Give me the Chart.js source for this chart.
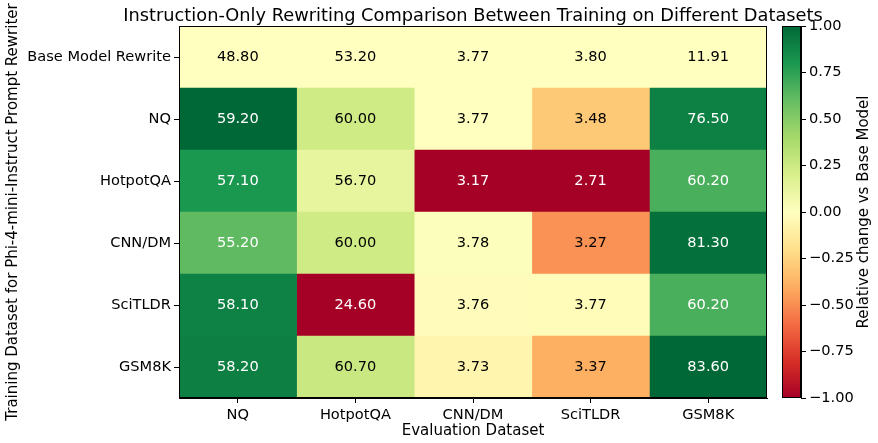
<!DOCTYPE html>
<html>
<head>
<meta charset="utf-8">
<script src="https://cdn.jsdelivr.net/npm/chart.js@4"></script>
<style>
  html, body { margin: 0; padding: 0; background: #fff; }
  #wrap { position: relative; width: 878px; height: 443px; }
  #heat { position: absolute; left: 0; top: 0; }
  #bar { position: absolute; left: 760px; top: 0; }
</style>
</head>
<body>
<div id="wrap">
  <canvas id="heat" width="878" height="443"></canvas>
  <canvas id="bar" width="118" height="443"></canvas>
</div>
<script>
// 데이터
const evalSets = ['NQ', 'HotpotQA', 'CNN/DM', 'SciTLDR', 'GSM8K'];
const trainSets = ['Base Model Rewrite', 'NQ', 'HotpotQA', 'CNN/DM', 'SciTLDR', 'GSM8K'];
const baseScores = [48.80, 53.20, 3.77, 3.80, 11.91];
const nqScores = [59.20, 60.00, 3.77, 3.48, 76.50];
const hotpotScores = [57.10, 56.70, 3.17, 2.71, 60.20];
const cnnScores = [55.20, 60.00, 3.78, 3.27, 81.30];
const scitldrScores = [58.10, 24.60, 3.76, 3.77, 60.20];
const gsmScores = [58.20, 60.70, 3.73, 3.37, 83.60];
const colorbarTicks = [-1, -0.75, -0.5, -0.25, 0, 0.25, 0.5, 0.75, 1];

const scores = [baseScores, nqScores, hotpotScores, cnnScores, scitldrScores, gsmScores];

// RdYlGn
const rdylgn = ['#a50026', '#d73027', '#f46d43', '#fdae61', '#fee08b', '#ffffbf',
  '#d9ef8b', '#a6d96a', '#66bd63', '#1a9850', '#006837'];

function hexToRgb(h) {
  return [parseInt(h.slice(1, 3), 16), parseInt(h.slice(3, 5), 16), parseInt(h.slice(5, 7), 16)];
}
function cmap(t) {
  t = Math.max(0, Math.min(1, t));
  const pos = t * (rdylgn.length - 1);
  const i = Math.min(Math.floor(pos), rdylgn.length - 2);
  const f = pos - i;
  const a = hexToRgb(rdylgn[i]), b = hexToRgb(rdylgn[i + 1]);
  const c = a.map((v, k) => Math.round(v + (b[k] - v) * f));
  return `rgb(${c[0]},${c[1]},${c[2]})`;
}

// 열별 상대 변화 (최대 절대 변화로 정규화)
const rel = scores.map(row => row.map(() => 0));
evalSets.forEach((_, j) => {
  let maxAbs = 0;
  scores.forEach(row => { maxAbs = Math.max(maxAbs, Math.abs(row[j] - baseScores[j])); });
  scores.forEach((row, i) => { rel[i][j] = maxAbs ? (row[j] - baseScores[j]) / maxAbs : 0; });
});

Chart.defaults.font.family = 'DejaVu Sans';
Chart.defaults.color = '#000';
const tickSize = 14.6;

const frame = {
  id: 'frame',
  afterDraw(chart) {
    const { ctx, chartArea: a } = chart;
    ctx.save();
    ctx.strokeStyle = '#000';
    ctx.lineWidth = 1;
    ctx.strokeRect(Math.round(a.left) + 0.5, Math.round(a.top) + 0.5,
      Math.round(a.right - a.left) - 1, Math.round(a.bottom - a.top) - 1);
    ctx.restore();
  }
};

const cellText = {
  id: 'cellText',
  afterDraw(chart) {
    const { ctx, chartArea: a } = chart;
    ctx.save();
    ctx.font = tickSize + 'px "DejaVu Sans"';
    ctx.textAlign = 'center';
    ctx.textBaseline = 'middle';
    chart.data.datasets.forEach((ds, j) => {
      chart.getDatasetMeta(j).data.forEach((el, i) => {
        const p = el.getProps(['x', 'y', 'base']);
        ctx.fillStyle = Math.abs(rel[i][j]) > 0.5 ? '#fff' : '#000';
        ctx.fillText(scores[i][j].toFixed(2), (p.x + p.base) / 2, p.y);
      });
    });
    // 제목
    ctx.fillStyle = '#000';
    ctx.font = '17.8px "DejaVu Sans"';
    ctx.textBaseline = 'alphabetic';
    ctx.fillText('Instruction-Only Rewriting Comparison Between Training on Different Datasets',
      (a.left + a.right) / 2, a.top - 5);
    ctx.restore();
  }
};

new Chart(document.getElementById('heat'), {
  type: 'bar',
  data: {
    labels: trainSets,
    datasets: evalSets.map((name, j) => ({
      label: name,
      data: trainSets.map(() => [j, j + 1]),
      backgroundColor: rel.map(r => cmap((r[j] + 1) / 2)),
      borderWidth: 0,
      grouped: false,
      barPercentage: 1,
      categoryPercentage: 1
    }))
  },
  options: {
    indexAxis: 'y',
    responsive: false,
    animation: false,
    layout: { padding: { top: 26, right: 111, left: 0, bottom: 0 } },
    plugins: { legend: { display: false }, tooltip: { enabled: false } },
    scales: {
      x: {
        type: 'linear',
        min: 0,
        max: 5,
        afterBuildTicks: axis => { axis.ticks = evalSets.map((_, i) => ({ value: i + 0.5 })); },
        afterFit: s => { s.height = 45; },
        ticks: {
          font: { size: tickSize },
          padding: 3,
          maxRotation: 0,
          callback: (v, i) => evalSets[i]
        },
        grid: { drawOnChartArea: false, tickLength: 5, color: '#000' },
        border: { color: '#000' },
        title: { display: true, text: 'Evaluation Dataset', font: { size: 15 }, padding: { top: 0, bottom: 3 } }
      },
      y: {
        afterFit: s => { s.width = 179; },
        ticks: { font: { size: tickSize }, padding: 3 },
        grid: { drawOnChartArea: false, offset: false, tickLength: 5, color: '#000' },
        border: { color: '#000' },
        title: {
          display: true,
          text: 'Training Dataset for Phi-4-mini-Instruct Prompt Rewriter',
          font: { size: 15 },
          padding: { top: 4, bottom: 0 }
        }
      }
    }
  },
  plugins: [cellText, frame]
});

// 컬러바
const barLabel = {
  id: 'barLabel',
  afterDraw(chart) {
    const { ctx, chartArea: a } = chart;
    ctx.save();
    ctx.translate(104, (a.top + a.bottom) / 2);
    ctx.rotate(-Math.PI / 2);
    ctx.font = '15px "DejaVu Sans"';
    ctx.textAlign = 'center';
    ctx.textBaseline = 'middle';
    ctx.fillStyle = '#000';
    ctx.fillText('Relative change vs Base Model', 0, 0);
    ctx.restore();
  }
};

new Chart(document.getElementById('bar'), {
  type: 'bar',
  data: {
    labels: [''],
    datasets: [{
      data: [[-1, 1]],
      backgroundColor: (c) => {
        const a = c.chart.chartArea;
        if (!a) return '#ffffbf';
        const g = c.chart.ctx.createLinearGradient(0, a.bottom, 0, a.top);
        rdylgn.forEach((col, k) => g.addColorStop(k / (rdylgn.length - 1), col));
        return g;
      },
      borderWidth: 0,
      barPercentage: 1,
      categoryPercentage: 1
    }]
  },
  options: {
    responsive: false,
    animation: false,
    layout: { padding: { top: 26, left: 22, right: 0, bottom: 45 } },
    plugins: { legend: { display: false }, tooltip: { enabled: false } },
    scales: {
      x: { display: false },
      y: {
        position: 'right',
        min: -1,
        max: 1,
        afterBuildTicks: axis => { axis.ticks = colorbarTicks.map(v => ({ value: v })); },
        afterFit: s => { s.width = 77; },
        ticks: {
          font: { size: tickSize },
          padding: 3,
          callback: v => (v < 0 ? '\u2212' : '') + Math.abs(v).toFixed(2)
        },
        grid: { drawOnChartArea: false, tickLength: 5, color: '#000' },
        border: { color: '#000' }
      }
    }
  },
  plugins: [frame, barLabel]
});
</script>
</body>
</html>
